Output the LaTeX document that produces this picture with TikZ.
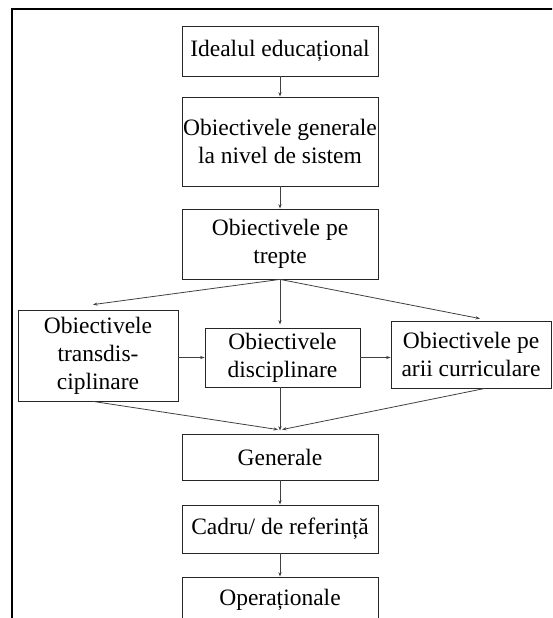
\documentclass[tikz,border=0pt]{standalone}
\usepackage{fontspec}
\setmainfont{Liberation Serif}
\usetikzlibrary{arrows.meta}
\begin{document}
\begin{tikzpicture}[x=1pt,y=-1pt,
  every node/.style={font=\fontsize{23.5}{28}\selectfont},
  box/.style={draw=black!85,line width=0.8pt,align=center,inner sep=0pt,
              minimum width=196pt},
  link/.style={draw=black!75,line width=0.8pt,
               -{Stealth[length=4.5pt,width=3.2pt]}},
  frameline/.style={draw=black,line width=1.4pt}]
\useasboundingbox (0,0) rectangle (552,618);
\clip (0,0) rectangle (552,618);

% open frame: left and top rule
\draw[frameline] (12,640) -- (12,9) -- (570,9);

% main column
\node[box,minimum height=50pt]  (ideal) at (280,51)    {Idealul educațional};
\node[box,minimum height=89pt]  (sist)  at (280,141.5) {Obiectivele generale\\la nivel de sistem};
\node[box,minimum height=70pt]  (trep)  at (280,244)   {Obiectivele pe\\trepte};

% middle row
\node[box,minimum width=160pt,minimum height=91pt] (trans) at (98,355.5)
  {Obiectivele\\transdis-\\ciplinare};
\node[box,minimum width=155pt,minimum height=59pt] (disc) at (282.5,357.5)
  {Obiectivele\\disciplinare};
\node[box,minimum width=160pt,minimum height=67pt] (arii) at (471,354.5)
  {Obiectivele pe\\arii curriculare};

% lower column
\node[box,minimum height=46pt] (gen)  at (280,457) {Generale};
\node[box,minimum height=48pt] (cadru) at (280,529) {Cadru/ de referință};
\node[box,minimum height=46pt] (oper) at (280,600) {Operaționale};

% convergence points above "Generale"
\coordinate (gl) at ([xshift=-2pt,yshift=4pt]gen.north);
\coordinate (gm) at ([yshift=3pt]gen.north);
\coordinate (gr) at ([xshift=2pt,yshift=4pt]gen.north);

% connectors
\draw[link] (ideal.south) -- (sist.north);
\draw[link] (sist.south) -- (trep.north);
\draw[link] (trep.south) -- ([shift={(-5pt,5pt)}]trans.north);
\draw[link] (trep.south) -- ([yshift=3pt]trep.south |- disc.north);
\draw[link] (trep.south) -- ([shift={(9pt,2pt)}]arii.north);
\draw[link] (disc.west -| trans.east) -- (disc.west);
\draw[link] (disc.east) -- (disc.east -| arii.west);
\draw[link] ([xshift=-5pt]trans.south) -- (gl);
\draw[link] (trep.south |- disc.south) -- (gm);
\draw[link] ([xshift=14pt]arii.south) -- (gr);
\draw[link] (gen.south) -- (cadru.north);
\draw[link] (cadru.south) -- (oper.north);
\end{tikzpicture}
\end{document}
